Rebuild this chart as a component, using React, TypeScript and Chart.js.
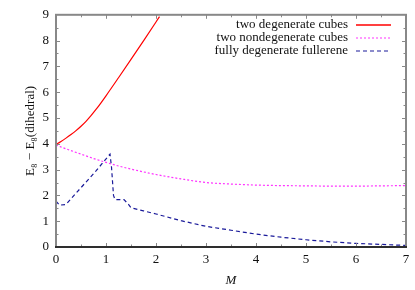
import React, { useEffect, useRef } from "react";
import { Chart, registerables } from "chart.js";
Chart.register(...registerables);

const redLabel = "two degenerate cubes";
const redX = [0, 0.1, 0.2, 0.3, 0.4, 0.5, 0.6, 0.7, 0.8, 0.9, 1.0, 1.25, 1.5, 1.75, 2.0, 2.07];
const redY = [3.97, 4.09, 4.22, 4.36, 4.51, 4.68, 4.87, 5.09, 5.33, 5.59, 5.86, 6.56, 7.27, 7.99, 8.72, 8.93];

const magLabel = "two nondegenerate cubes";
const magX = [0, 0.25, 0.5, 0.75, 1, 1.25, 1.5, 1.75, 2, 2.5, 3, 3.5, 4, 4.5, 5, 5.5, 6, 6.5, 7];
const magY = [3.95, 3.77, 3.6, 3.43, 3.28, 3.14, 3.02, 2.91, 2.81, 2.64, 2.5, 2.44, 2.4, 2.38, 2.37, 2.36, 2.36, 2.37, 2.38];

const blueLabel = "fully degenerate fullerene";
const blueX = [0, 0.07, 0.2, 0.5, 0.8, 1.08, 1.11, 1.15, 1.18, 1.36, 1.45, 1.5, 1.75, 2, 2.5, 3, 3.5, 4, 4.5, 5, 5.5, 6, 6.5, 7];
const blueY = [1.78, 1.62, 1.65, 2.3, 2.95, 3.6, 3.1, 2.0, 1.84, 1.84, 1.65, 1.52, 1.4, 1.28, 1.02, 0.8, 0.65, 0.5, 0.38, 0.28, 0.2, 0.14, 0.1, 0.06];

const xTickValues = [0, 1, 2, 3, 4, 5, 6, 7];
const yTickValues = [0, 1, 2, 3, 4, 5, 6, 7, 8, 9];

const labels = [redLabel, magLabel, blueLabel];
const colors = ["rgb(255,0,0)", "rgb(255,51,255)", "rgb(26,26,154)"];
const widths = [1.2, 1.2, 1.2];
const dashes: number[][] = [[], [2, 2], [4, 3]];

const FONT = '"Liberation Serif", "Times New Roman", serif';

const frame = {
  id: "frame",
  afterDatasetsDraw(chart: any) {
    const { ctx, chartArea: a, scales } = chart;
    const xs = scales.x, ys = scales.y;
    ctx.save();
    ctx.strokeStyle = "#888";
    ctx.lineWidth = 1;
    ctx.setLineDash([]);
    for (let v = 0.5; v < 7; v += 0.5) {
      const p = Math.round(xs.getPixelForValue(v)) + 0.5;
      const len = v % 1 === 0 ? 4 : 2.5;
      ctx.beginPath();
      ctx.moveTo(p, a.bottom); ctx.lineTo(p, a.bottom - len);
      ctx.moveTo(p, a.top); ctx.lineTo(p, a.top + len);
      ctx.stroke();
    }
    for (let v = 0.5; v < 9; v += 0.5) {
      const p = Math.round(ys.getPixelForValue(v)) + 0.5;
      const len = v % 1 === 0 ? 4 : 2.5;
      ctx.beginPath();
      ctx.moveTo(a.left, p); ctx.lineTo(a.left + len, p);
      ctx.moveTo(a.right, p); ctx.lineTo(a.right - len, p);
      ctx.stroke();
    }
    ctx.lineWidth = 2;
    ctx.strokeStyle = "#888";
    ctx.strokeRect(a.left, a.top, a.right - a.left, a.bottom - a.top);
    ctx.strokeStyle = "#111";
    ctx.lineWidth = 1.5;
    ctx.beginPath();
    ctx.moveTo(a.left - 1, a.bottom); ctx.lineTo(a.right + 1, a.bottom);
    ctx.stroke();
    ctx.restore();

    // legend
    const sampleEnd = a.right - 15;
    const sampleStart = sampleEnd - 35;
    const textRight = sampleStart - 8;
    for (let i = 0; i < labels.length; i++) {
      const y = a.top + 10 + i * 13;
      ctx.save();
      ctx.font = "13px " + FONT;
      ctx.textAlign = "right";
      ctx.textBaseline = "middle";
      ctx.fillStyle = "#111";
      ctx.fillText(labels[i], textRight, y);
      ctx.restore();
      ctx.save();
      ctx.beginPath();
      ctx.setLineDash(dashes[i]);
      ctx.lineWidth = i === 0 ? 1.6 : widths[i];
      ctx.strokeStyle = colors[i];
      ctx.moveTo(sampleStart, Math.round(y));
      ctx.lineTo(sampleEnd, Math.round(y));
      ctx.stroke();
      ctx.restore();
    }
  },
};

const pts = (xs: number[], ys: number[]) => xs.map((x, i) => ({ x, y: ys[i] }));

export default function App() {
  const ref = useRef<HTMLCanvasElement>(null);
  useEffect(() => {
    const series = [pts(redX, redY), pts(magX, magY), pts(blueX, blueY)];
    const chart = new Chart(ref.current!, {
      type: "scatter",
      data: {
        datasets: series.map((data, i) => ({
          label: labels[i],
          data,
          showLine: true,
          borderColor: colors[i],
          borderWidth: widths[i],
          borderDash: dashes[i],
          pointRadius: 0,
          cubicInterpolationMode: i === 2 ? "default" : "monotone",
          tension: i === 2 ? 0 : 0.4,
        })),
      } as any,
      options: {
        responsive: false,
        animation: false,
        layout: { padding: { left: 0, top: 13, right: 9, bottom: 0 } },
        plugins: { legend: { display: false }, tooltip: { enabled: false } },
        scales: {
          x: {
            type: "linear", min: 0, max: 7,
            afterBuildTicks: (s: any) => { s.ticks = xTickValues.map((v) => ({ value: v })); },
            afterFit: (s: any) => { s.height = 43; },
            grid: { display: false, drawTicks: false },
            border: { display: false },
            ticks: { color: "#111", font: { family: FONT, size: 13 }, padding: 5, maxRotation: 0 },
            title: { display: true, text: "M", color: "#111", font: { family: FONT, size: 13, style: "italic" }, padding: { top: 0, bottom: 2 } },
          },
          y: {
            type: "linear", min: 0, max: 9,
            afterBuildTicks: (s: any) => { s.ticks = yTickValues.map((v) => ({ value: v })); },
            afterFit: (s: any) => { s.width = 56; },
            grid: { display: false, drawTicks: false },
            border: { display: false },
            ticks: { color: "#111", font: { family: FONT, size: 13 }, padding: 7 },
            title: { display: true, text: "E₈ − E₈(dihedral)", color: "#111", font: { family: FONT, size: 13 }, padding: { top: 23, bottom: 0 } },
          },
        },
      } as any,
      plugins: [frame],
    });
    return () => chart.destroy();
  }, []);
  return (
    <div style={{ position: "absolute", left: 0, top: 0, width: 415, height: 290, background: "#fff" }}>
      <canvas ref={ref} width={415} height={290} />
    </div>
  );
}
